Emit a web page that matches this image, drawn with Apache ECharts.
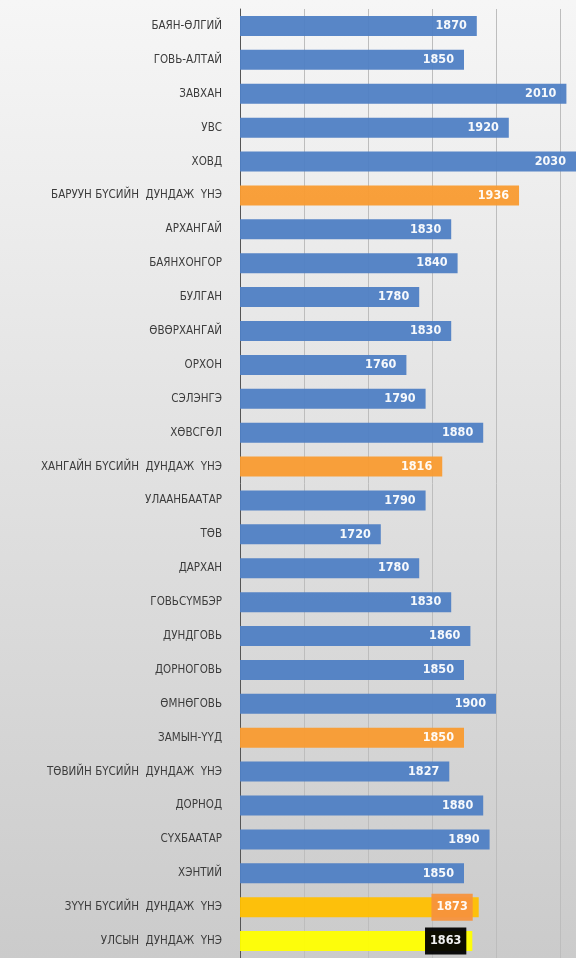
<!DOCTYPE html>
<html>
<head>
<meta charset="utf-8">
<script src="https://cdn.jsdelivr.net/npm/echarts@6/dist/echarts.min.js"></script>
<style>
html,body{margin:0;padding:0;}
#c{width:576px;height:958px;}
</style>
</head>
<body>
<div id="c"></div>
<script>
var categories = [
  "БАЯН-ӨЛГИЙ","ГОВЬ-АЛТАЙ","ЗАВХАН","УВС","ХОВД","БАРУУН БҮСИЙН  ДУНДАЖ  ҮНЭ",
  "АРХАНГАЙ","БАЯНХОНГОР","БУЛГАН","ӨВӨРХАНГАЙ","ОРХОН","СЭЛЭНГЭ","ХӨВСГӨЛ",
  "ХАНГАЙН БҮСИЙН  ДУНДАЖ  ҮНЭ","УЛААНБААТАР","ТӨВ","ДАРХАН","ГОВЬСҮМБЭР",
  "ДУНДГОВЬ","ДОРНОГОВЬ","ӨМНӨГОВЬ","ЗАМЫН-ҮҮД","ТӨВИЙН БҮСИЙН  ДУНДАЖ  ҮНЭ",
  "ДОРНОД","СҮХБААТАР","ХЭНТИЙ","ЗҮҮН БҮСИЙН  ДУНДАЖ  ҮНЭ","УЛСЫН  ДУНДАЖ  ҮНЭ"
];
var values = [1870,1850,2010,1920,2030,1936,1830,1840,1780,1830,1760,1790,1880,1816,
  1790,1720,1780,1830,1860,1850,1900,1850,1827,1880,1890,1850,1873,1863];
// bar kind per category: b = blue, o = orange, g = gold, y = yellow
var kinds = ["b","b","b","b","b","o","b","b","b","b","b","b","b","o",
  "b","b","b","b","b","b","b","o","b","b","b","b","g","y"];
var xTicks = {min:1500, max:2025, interval:100};

var colorMap = {b:"#4f80c4", o:"#f99b30", g:"#ffbf00", y:"#ffff00"};
var fontCond = "'DejaVu Sans Condensed','Liberation Sans Narrow',sans-serif";

var data = values.map(function(v,i){
  var k = kinds[i];
  var item = {value:v, itemStyle:{color:colorMap[k]}};
  if (k === "g") {
    item.label = {backgroundColor:"#f7923c", padding:[7,5,7,5], distance:6};
  } else if (k === "y") {
    item.label = {backgroundColor:"#000000", padding:[7,5,7,5], distance:6};
  }
  return item;
});

var chart = echarts.init(document.getElementById('c'));
chart.setOption({
  backgroundColor: {type:'linear', x:0, y:0, x2:0, y2:1,
    colorStops:[{offset:0,color:'#f6f6f6'},{offset:1,color:'#cbcbcb'}]},
  animation:false,
  grid:{left:240, right:0, top:9, bottom:0, containLabel:false},
  xAxis:{
    type:'value', min:xTicks.min, max:xTicks.max, interval:xTicks.interval,
    axisLabel:{show:false}, axisLine:{show:false}, axisTick:{show:false},
    splitLine:{show:true, lineStyle:{color:'#bdbdbd', width:1}}
  },
  yAxis:{
    type:'category', data:categories, inverse:true,
    axisLine:{show:true, lineStyle:{color:'#555555', width:1}},
    axisTick:{show:false},
    axisLabel:{color:'#3c3c3c', fontSize:11.5, fontFamily:fontCond, margin:18}
  },
  series:[{
    type:'bar', data:data, barWidth:20, clip:true,
    itemStyle:{opacity:0.95},
    label:{show:true, position:'insideRight', distance:10, color:'#ffffff',
      fontSize:12.5, fontWeight:'bold', fontFamily:fontCond}
  }]
});
</script>
</body>
</html>
